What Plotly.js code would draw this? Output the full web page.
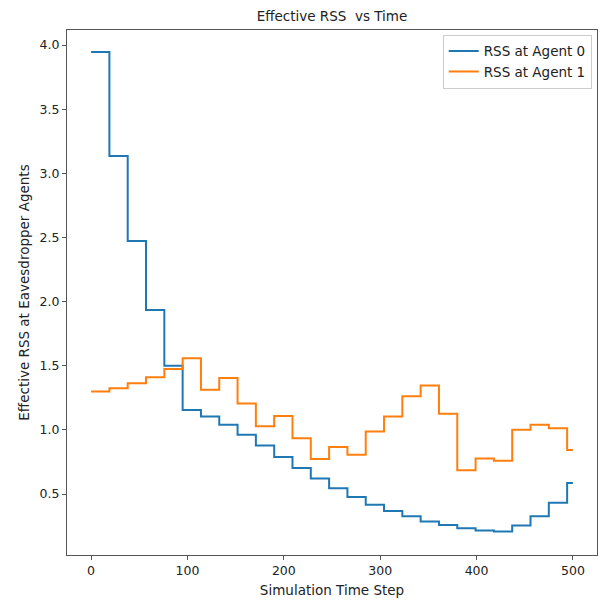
<!DOCTYPE html>
<html><head><meta charset="utf-8">
<script src="https://cdn.plot.ly/plotly-3.0.1.min.js"></script>
<style>body{margin:0;background:#fff}#chart{width:600px;height:601px}</style>
</head><body><div id="chart"></div>
<script>
const stepStarts = [0,19,38,57,76,95,114,133,152,171,190,209,228,247,266,285,304,323,342,361,380,399,418,437,456,475,494];
const lastStep = 500;
const agent0 = [3.945,3.135,2.472,1.935,1.50,1.154,1.104,1.039,0.961,0.878,0.789,0.703,0.620,0.544,0.477,0.417,0.367,0.326,0.286,0.258,0.234,0.216,0.208,0.255,0.326,0.432,0.586];
const agent1 = [1.300,1.325,1.363,1.41,1.475,1.558,1.312,1.405,1.206,1.029,1.109,0.935,0.773,0.867,0.807,0.987,1.104,1.263,1.346,1.125,0.685,0.776,0.760,1.0,1.039,1.013,0.844];
const seriesNames = ["RSS at Agent 0","RSS at Agent 1"];
const xTicks = [0,100,200,300,400,500];
const yTicks = [0.5,1.0,1.5,2.0,2.5,3.0,3.5,4.0];

const xs = stepStarts.concat([lastStep]);
const ext = a => a.concat([a[a.length-1]]);
const tickFont = {family:"DejaVu Sans", size:12.5, color:"#222"};
const titleFont = {family:"DejaVu Sans", size:13.5, color:"#222"};
const traces = [
  {x: xs, y: ext(agent0), name: seriesNames[0], mode:"lines", line:{shape:"hv", color:"#1f77b4", width:2}},
  {x: xs, y: ext(agent1), name: seriesNames[1], mode:"lines", line:{shape:"hv", color:"#ff7f0e", width:2}}
];
const axisCommon = {showgrid:false, zeroline:false, showline:true, mirror:true, linecolor:"#555", linewidth:1,
  ticks:"outside", ticklen:4, tickcolor:"#555", tickfont:tickFont};
const layout = {
  width:600, height:601, paper_bgcolor:"#fff", plot_bgcolor:"#fff",
  margin:{l:67, r:3, t:30, b:46},
  font: tickFont,
  title:{text:"Effective RSS\u00a0\u00a0vs Time", font:titleFont, x:0.5, xref:"paper", y:0.973, yanchor:"middle"},
  xaxis: Object.assign({}, axisCommon, {range:[-25,525], tickvals:xTicks, ticktext:xTicks.map(String),
    title:{text:"Simulation Time Step", font:titleFont, standoff:8}}),
  yaxis: Object.assign({}, axisCommon, {range:[0.0246,4.117], tickvals:yTicks, ticktext:yTicks.map(v=>v.toFixed(1)),
    title:{text:"Effective RSS at Eavesdropper Agents", font:titleFont, standoff:6}}),
  legend:{x:0.99, y:0.991, xanchor:"right", yanchor:"top", bgcolor:"rgba(255,255,255,0.8)", bordercolor:"#ccc", borderwidth:1,
    font:{family:"DejaVu Sans", size:13.5, color:"#222"}, itemwidth:30, tracegroupgap:2},
  showlegend:true
};
Plotly.newPlot("chart", traces, layout, {displayModeBar:false, staticPlot:true});
</script></body></html>
